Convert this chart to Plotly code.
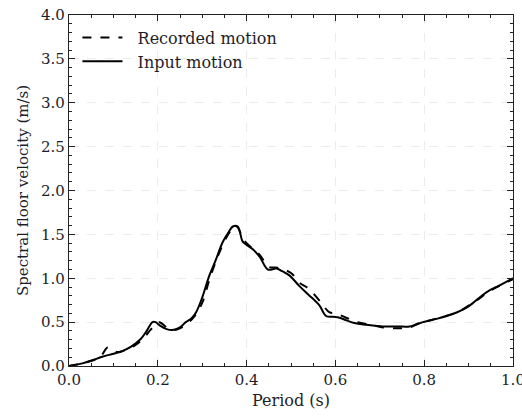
import plotly.graph_objects as go

# Input motion (solid)
period_input = [0.0, 0.03, 0.05, 0.075, 0.10, 0.12, 0.14, 0.162, 0.175, 0.188, 0.195, 0.205, 0.22, 0.233, 0.25,
                0.263, 0.275, 0.286, 0.30, 0.316, 0.33, 0.346, 0.36, 0.369, 0.38, 0.391, 0.40, 0.414, 0.43,
                0.448, 0.467, 0.48, 0.497, 0.519, 0.54, 0.564, 0.579, 0.595, 0.609, 0.625, 0.643, 0.67,
                0.707, 0.74, 0.767, 0.78, 0.797, 0.83, 0.873, 0.90, 0.94, 0.97, 1.0]
vel_input = [0.0, 0.03, 0.06, 0.105, 0.14, 0.17, 0.22, 0.31, 0.40, 0.50, 0.50, 0.46, 0.42, 0.41, 0.44,
             0.50, 0.54, 0.61, 0.78, 1.03, 1.20, 1.41, 1.53, 1.59, 1.59, 1.42, 1.38, 1.33, 1.24,
             1.10, 1.11, 1.08, 1.03, 0.91, 0.81, 0.69, 0.57, 0.56, 0.55, 0.52, 0.49, 0.47,
             0.45, 0.45, 0.45, 0.47, 0.50, 0.54, 0.61, 0.68, 0.84, 0.92, 1.0]

# Recorded motion (dashed)
period_rec = [0.0, 0.03, 0.05, 0.07, 0.087, 0.10, 0.113, 0.13, 0.15, 0.17, 0.185, 0.203, 0.22, 0.235, 0.25,
              0.265, 0.28, 0.30, 0.316, 0.335, 0.353, 0.365, 0.372, 0.38, 0.39, 0.40, 0.429, 0.45,
              0.47, 0.50, 0.519, 0.54, 0.565, 0.587, 0.60, 0.624, 0.65, 0.68, 0.707, 0.745, 0.767,
              0.79, 0.82, 0.873, 0.91, 0.95, 1.0]
vel_rec = [0.0, 0.03, 0.06, 0.10, 0.21, 0.17, 0.16, 0.19, 0.24, 0.33, 0.42, 0.50, 0.44, 0.41, 0.43,
           0.48, 0.55, 0.72, 0.98, 1.25, 1.45, 1.55, 1.60, 1.58, 1.47, 1.40, 1.27, 1.13,
           1.12, 1.06, 0.95, 0.88, 0.74, 0.61, 0.60, 0.55, 0.50, 0.47, 0.44, 0.43, 0.44,
           0.49, 0.53, 0.61, 0.72, 0.86, 0.99]

x_ticks = [0.0, 0.2, 0.4, 0.6, 0.8, 1.0]
x_tick_labels = ["0.0", "0.2", "0.4", "0.6", "0.8", "1.0"]
y_ticks = [0.0, 0.5, 1.0, 1.5, 2.0, 2.5, 3.0, 3.5, 4.0]
y_tick_labels = ["0.0", "0.5", "1.0", "1.5", "2.0", "2.5", "3.0", "3.5", "4.0"]

font_family = "DejaVu Serif"
txt = "#1e1e2a"
pad = "\u00a0\u00a0"

fig = go.Figure()
fig.add_trace(go.Scatter(x=period_rec, y=vel_rec, mode="lines", name=pad + "Recorded motion",
                         line=dict(color="black", width=2, dash="dash"), line_shape="spline"))
fig.add_trace(go.Scatter(x=period_input, y=vel_input, mode="lines", name=pad + "Input motion",
                         line=dict(color="black", width=2), line_shape="spline"))

axis_common = dict(
    showline=True, linecolor="#222", linewidth=1.2, mirror="allticks",
    ticks="inside", ticklen=6, tickwidth=1, tickcolor="#222",
    showgrid=True, gridcolor="#ececec", griddash="dash", gridwidth=1,
    zeroline=False, ticklabeloverflow="allow", automargin=False,
    tickfont=dict(family=font_family, size=15, color=txt),
)

fig.update_xaxes(range=[0, 1.0], tickvals=x_ticks, ticktext=x_tick_labels,
                 minor=dict(dtick=0.05, ticks="inside", ticklen=3, tickcolor="#222", showgrid=False),
                 title=dict(text="Period (s)", font=dict(family=font_family, size=16, color=txt), standoff=6),
                 **axis_common)
fig.update_yaxes(range=[0, 4.0], tickvals=y_ticks, ticktext=y_tick_labels,
                 minor=dict(dtick=0.1, ticks="inside", ticklen=3, tickcolor="#222", showgrid=False),
                 title=dict(text="Spectral floor velocity (m/s)", font=dict(family=font_family, size=15, color=txt), standoff=8),
                 **axis_common)

fig.update_layout(
    width=522, height=419,
    margin=dict(l=69, r=9, t=15, b=53),
    plot_bgcolor="white", paper_bgcolor="white",
    showlegend=True,
    legend=dict(x=0.019, y=0.984, xanchor="left", yanchor="top",
                bgcolor="rgba(255,255,255,0)", borderwidth=0,
                font=dict(family=font_family, size=16, color=txt),
                tracegroupgap=0, itemwidth=40),
)

fig.write_html("out.html", config={"displayModeBar": False},
               post_script="document.body.style.margin='0';document.body.style.overflow='hidden';")
